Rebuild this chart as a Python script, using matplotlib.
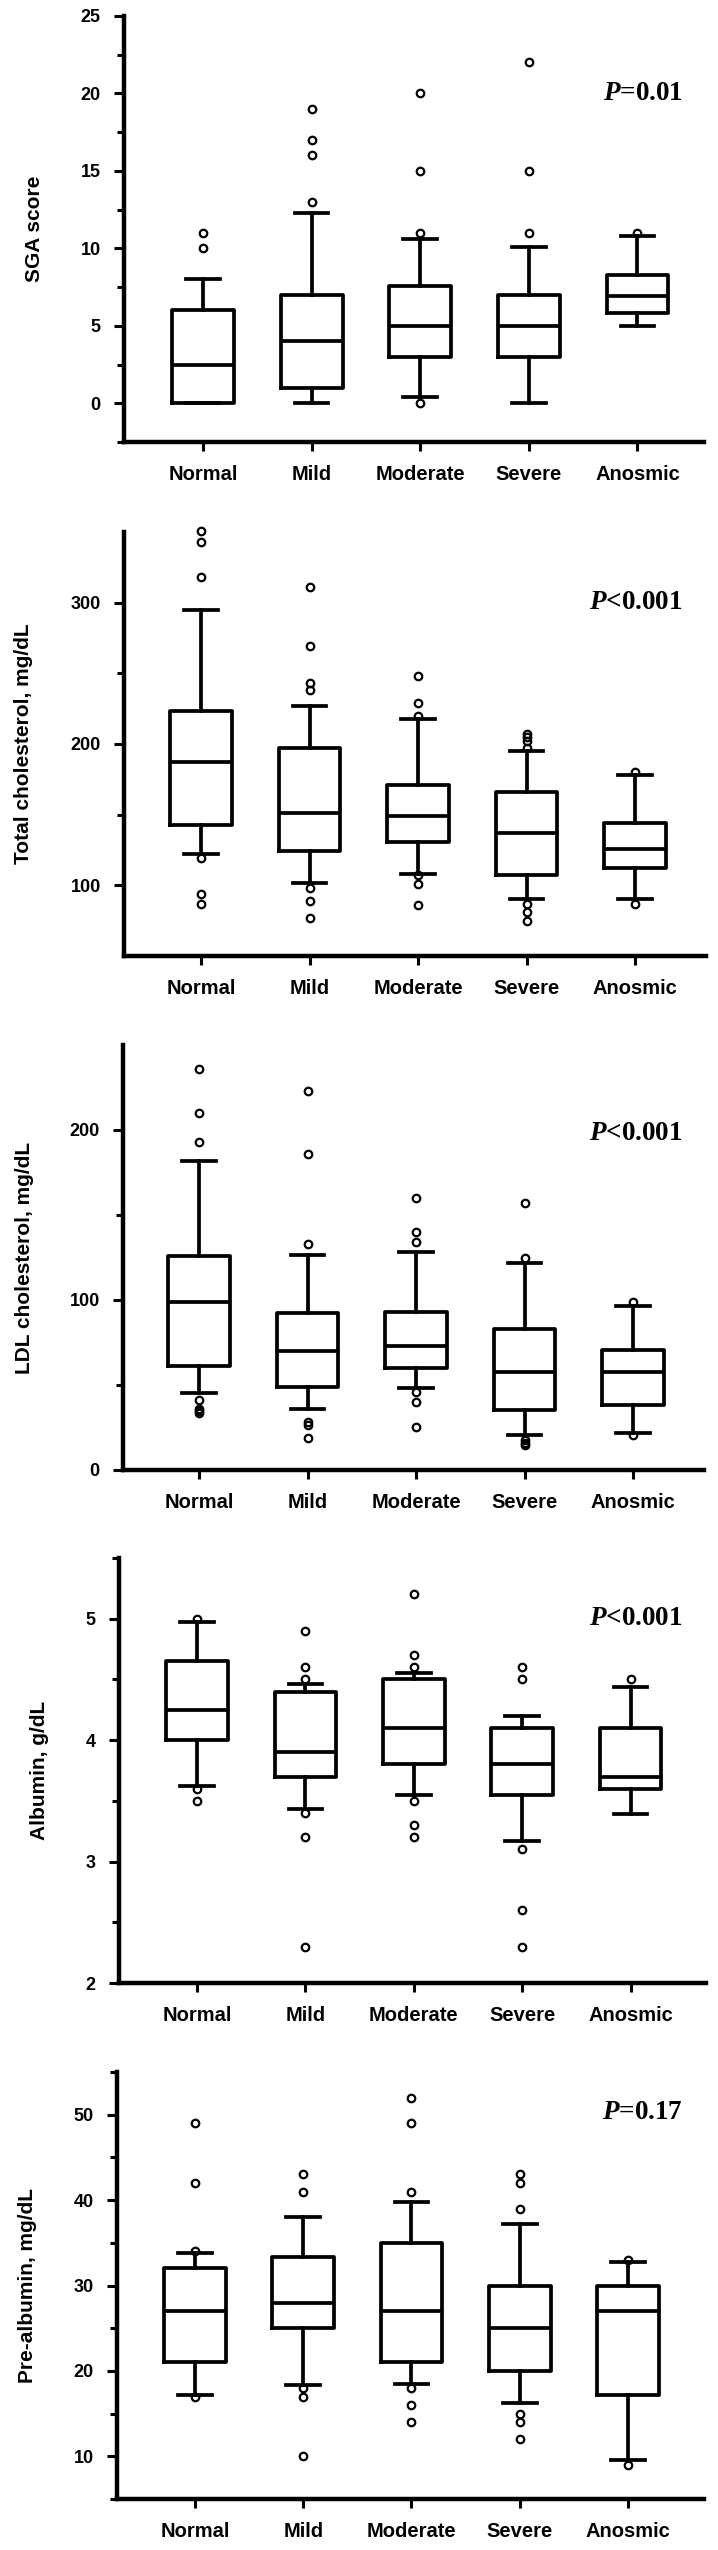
import matplotlib
matplotlib.use("Agg")
import matplotlib.pyplot as plt
import matplotlib.transforms as mtransforms
from matplotlib.ticker import FixedLocator

plt.rcParams["font.family"] = ["Liberation Sans", "DejaVu Sans"]
plt.rcParams["mathtext.fontset"] = "custom"
plt.rcParams["mathtext.it"] = "Liberation Serif:italic:bold"
plt.rcParams["mathtext.rm"] = "Liberation Serif:bold"

# ---------------- data ----------------
categories = ["Normal", "Mild", "Moderate", "Severe", "Anosmic"]

# SGA score
sga_q1 = [0, 1, 3, 3, 5.8]
sga_med = [2.5, 4, 5, 5, 6.95]
sga_q3 = [6, 7, 7.55, 7, 8.27]
sga_lo = [0, 0, 0.4, 0, 5.0]
sga_hi = [8, 12.3, 10.6, 10.1, 10.8]
sga_fliers = [[10, 11], [13, 16, 17, 19], [0, 11, 15, 20], [11, 15, 22], [11]]

# Total cholesterol, mg/dL
tc_q1 = [143, 124, 131, 107, 112]
tc_med = [187, 151, 149, 137, 126]
tc_q3 = [223, 197, 171, 166, 144]
tc_lo = [122, 102, 108, 90, 90]
tc_hi = [295, 227, 218, 195, 178]
tc_fliers = [[351, 343, 318, 119, 94, 87],
             [311, 269, 243, 238, 98, 89, 77],
             [248, 229, 220, 107, 101, 86],
             [207, 205, 202, 197, 87, 81, 75],
             [180, 87]]

# LDL cholesterol, mg/dL
ldl_q1 = [61, 49, 60, 35, 38]
ldl_med = [99, 70, 73, 57.5, 57.5]
ldl_q3 = [126, 92.5, 93, 83, 70.5]
ldl_lo = [45, 36, 48, 20.5, 21.5]
ldl_hi = [182, 126.5, 128, 121.5, 96.5]
ldl_fliers = [[236, 210, 193, 41, 36, 34.5, 33.5],
              [223, 186, 133, 28.5, 26.5, 19],
              [160, 140, 134, 46, 40, 25.5],
              [157, 124.5, 17.5, 16, 14.5],
              [99, 20.5]]

# Albumin, g/dL
alb_q1 = [4.0, 3.7, 3.8, 3.55, 3.6]
alb_med = [4.25, 3.9, 4.1, 3.8, 3.7]
alb_q3 = [4.65, 4.4, 4.5, 4.1, 4.1]
alb_lo = [3.62, 3.43, 3.55, 3.17, 3.39]
alb_hi = [4.97, 4.46, 4.55, 4.2, 4.44]
alb_fliers = [[5.0, 3.6, 3.5],
              [4.9, 4.6, 4.5, 3.4, 3.2, 2.3],
              [5.2, 4.7, 4.6, 3.5, 3.3, 3.2],
              [4.6, 4.5, 3.1, 2.6, 2.3],
              [4.5]]

# Pre-albumin, mg/dL
pre_q1 = [21, 25, 21, 20, 17.2]
pre_med = [27, 28, 27, 25, 27]
pre_q3 = [32, 33.3, 35, 30, 30]
pre_lo = [17.2, 18.3, 18.5, 16.2, 9.6]
pre_hi = [33.8, 38, 39.8, 37.2, 32.7]
pre_fliers = [[49, 42, 34, 17],
              [43, 41, 18, 17, 10],
              [52, 49, 41, 18, 16, 14],
              [43, 42, 39, 15, 14, 12],
              [33, 9]]

ylabels = ["SGA score", "Total cholesterol, mg/dL", "LDL cholesterol, mg/dL",
           "Albumin, g/dL", "Pre-albumin, mg/dL"]
p_texts = ["$P$=0.01", "$P$<0.001", "$P$<0.001", "$P$<0.001", "$P$=0.17"]

y_limits = [(-2.5, 25), (50, 350), (0, 250), (2, 5.5), (5, 55)]
y_major = [[0, 5, 10, 15, 20, 25], [100, 200, 300], [0, 100, 200],
           [2, 3, 4, 5], [10, 20, 30, 40, 50]]
y_minor = [[-2.5, 2.5, 7.5, 12.5, 17.5, 22.5], [150, 250], [50, 150],
           [2.5, 3.5, 4.5, 5.5], [5, 15, 25, 35, 45, 55]]

series = [
    (sga_q1, sga_med, sga_q3, sga_lo, sga_hi, sga_fliers),
    (tc_q1, tc_med, tc_q3, tc_lo, tc_hi, tc_fliers),
    (ldl_q1, ldl_med, ldl_q3, ldl_lo, ldl_hi, ldl_fliers),
    (alb_q1, alb_med, alb_q3, alb_lo, alb_hi, alb_fliers),
    (pre_q1, pre_med, pre_q3, pre_lo, pre_hi, pre_fliers),
]

# ---------------- layout (pixels) ----------------
W, H = 718, 2550
ax_left = [124, 124, 123, 119, 117]
ax_right = [704, 706, 704, 706, 704]
ax_top = [16, 532, 1045, 1558, 2072]
ax_bottom = [442, 956, 1470, 1983, 2499]
cat_first = [203, 201, 199, 197, 195]
cat_last = [637.5, 635, 633, 630.6, 628]
ylabel_cx = [35, 24, 25, 39.5, 28]
p_y = [20, 300, 198, 5.0, 50.2]
p_right_px = 683

fig = plt.figure(figsize=(W / 100, H / 100), dpi=100)

LW = 2.7
positions = [1, 2, 3, 4, 5]
for i in range(5):
    L, R, T, B = ax_left[i], ax_right[i], ax_top[i], ax_bottom[i]
    ax = fig.add_axes([L / W, 1 - B / H, (R - L) / W, (B - T) / H])
    q1, med, q3, lo, hi, fl = series[i]
    stats = []
    for k in range(5):
        stats.append(dict(q1=q1[k], med=med[k], q3=q3[k], whislo=lo[k],
                          whishi=hi[k], fliers=fl[k], label=categories[k]))
    art = ax.bxp(stats, positions=positions, widths=0.57, capwidths=0.31,
                 showfliers=True,
                 boxprops=dict(color="black", linewidth=LW),
                 whiskerprops=dict(color="black", linewidth=LW),
                 capprops=dict(color="black", linewidth=LW),
                 medianprops=dict(color="black", linewidth=LW),
                 flierprops=dict(marker="o", markerfacecolor="none",
                                 markeredgecolor="black", markersize=5.4,
                                 markeredgewidth=1.6))
    for f in art["fliers"]:
        f.set_clip_on(False)
    sp = (cat_last[i] - cat_first[i]) / 4.0
    ax.set_xlim(1 + (L - cat_first[i]) / sp, 5 + (R - cat_last[i]) / sp)
    ax.set_ylim(*y_limits[i])
    ax.set_xticks(positions)
    ax.set_xticklabels(categories, fontsize=14.5, fontweight="bold")
    ax.yaxis.set_major_locator(FixedLocator(y_major[i]))
    ax.yaxis.set_minor_locator(FixedLocator(y_minor[i]))
    ax.set_yticklabels([("%g" % v) for v in y_major[i]], fontsize=13,
                       fontweight="bold")
    ax.tick_params(axis="x", direction="out", length=6.8, width=2.2, pad=9.5)
    ax.tick_params(axis="y", which="major", direction="out", length=7.2,
                   width=2.2, pad=9.5)
    ax.tick_params(axis="y", which="minor", direction="out", length=4.8,
                   width=2.2)
    for s in ("top", "right"):
        ax.spines[s].set_visible(False)
    for s in ("left", "bottom"):
        ax.spines[s].set_linewidth(3.2)
    ax.set_ylabel(ylabels[i], fontsize=15, fontweight="bold")
    ax.yaxis.set_label_coords((ylabel_cx[i] - L) / (R - L), 0.5)
    ax.yaxis.label.set_verticalalignment("center")
    trans = mtransforms.blended_transform_factory(ax.transAxes, ax.transData)
    ax.text((p_right_px - L) / (R - L), p_y[i], p_texts[i], transform=trans,
            ha="right", va="center", fontsize=19.5,
            fontfamily="Liberation Serif", fontweight="bold")

fig.savefig("out.png", dpi=100)
